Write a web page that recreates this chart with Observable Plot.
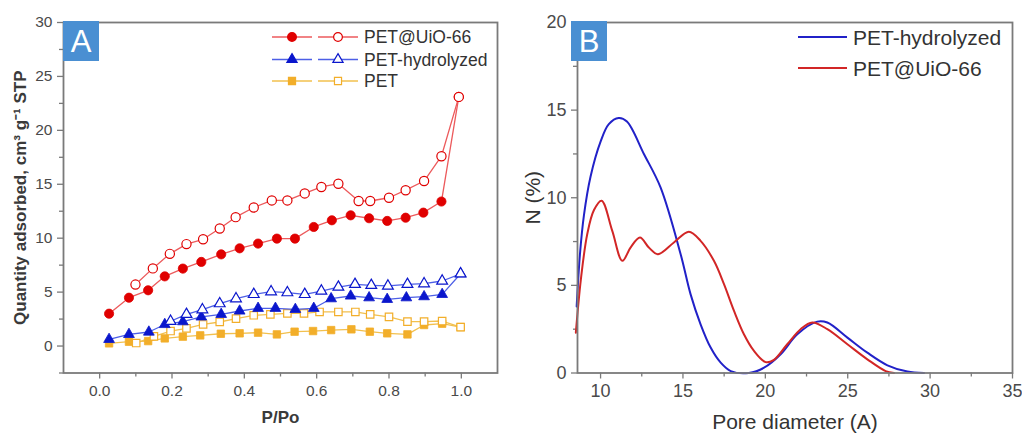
<!DOCTYPE html>
<html>
<head>
<meta charset="utf-8">
<script src="https://cdn.jsdelivr.net/npm/d3@7"></script>
<script src="https://cdn.jsdelivr.net/npm/@observablehq/plot@0.6"></script>
<style>
  html, body { margin: 0; background: #fff; }
  #fig { position: relative; width: 1022px; height: 439px; font-family: "Liberation Sans", Arial, sans-serif; }
  .panel { position: absolute; top: 0; }
  .panel svg { overflow: visible; }
  #overlay { position: absolute; left: 0; top: 0; pointer-events: none; }
  #panelA [aria-label="y-axis tick label"] text, #panelA [aria-label="x-axis tick label"] text { font-size: 15.5px; fill: #4a4a4a; }
  #panelB [aria-label="y-axis tick label"] text, #panelB [aria-label="x-axis tick label"] text { font-size: 18px; fill: #4a4a4a; }
  #panelA [aria-label="y-axis label"] text { font-size: 17px; fill: #3a3a3a; font-weight: bold; }
  #panelA [aria-label="x-axis label"] text { font-size: 17px; fill: #3a3a3a; font-weight: bold; }
  #panelB [aria-label="y-axis label"] text, #panelB [aria-label="x-axis label"] text { font-size: 21px; fill: #333; }
</style>
</head>
<body>
<div id="fig">
  <div class="panel" id="panelA" style="left:0px"></div>
  <div class="panel" id="panelB" style="left:511px"></div>
</div>
<script>
// ---- Panel A: N2 isotherms, relative pressure P/Po vs quantity adsorbed ----
const uioAdsP = [0.026,0.081,0.134,0.18,0.23,0.281,0.336,0.387,0.438,0.49,0.54,0.592,0.642,0.694,0.745,0.795,0.846,0.895,0.945,0.993];
const uioAdsQ = [3.0,4.48,5.17,6.46,7.18,7.8,8.5,9.06,9.5,9.96,9.96,11.04,11.66,12.12,11.85,11.6,11.9,12.37,13.4,23.1];
const uioDesP = [0.993,0.945,0.897,0.846,0.80,0.748,0.716,0.66,0.613,0.567,0.519,0.476,0.426,0.376,0.332,0.286,0.24,0.194,0.147,0.099];
const uioDesQ = [23.1,17.6,15.3,14.45,13.75,13.45,13.45,15.05,14.75,14.15,13.5,13.5,12.85,11.95,10.9,9.9,9.45,8.55,7.2,5.7];

const hydAdsP = [0.026,0.081,0.136,0.18,0.23,0.281,0.336,0.387,0.438,0.486,0.541,0.592,0.64,0.694,0.745,0.795,0.848,0.897,0.947,0.998];
const hydAdsQ = [0.62,1.08,1.3,2.0,2.26,2.7,2.94,3.25,3.5,3.5,3.4,3.5,4.39,4.64,4.48,4.33,4.48,4.58,4.79,6.7];
const hydDesP = [0.998,0.947,0.897,0.851,0.797,0.751,0.706,0.66,0.613,0.567,0.519,0.474,0.426,0.377,0.332,0.284,0.24,0.196];
const hydDesQ = [6.7,6.03,5.78,5.72,5.57,5.63,5.72,5.47,5.1,4.79,4.95,5.04,4.79,4.39,3.93,3.37,2.94,2.3];

const petAdsP = [0.026,0.081,0.134,0.18,0.23,0.278,0.335,0.387,0.438,0.49,0.539,0.59,0.64,0.696,0.747,0.795,0.851,0.897,0.947,0.998];
const petAdsQ = [0.25,0.4,0.46,0.71,0.87,0.99,1.14,1.18,1.24,1.08,1.33,1.39,1.48,1.55,1.33,1.18,1.08,1.95,2.07,1.76];
const petDesP = [0.998,0.947,0.897,0.851,0.8,0.748,0.707,0.66,0.608,0.565,0.519,0.472,0.426,0.377,0.332,0.286,0.24,0.196,0.15,0.101];
const petDesQ = [1.76,2.32,2.26,2.26,2.7,2.94,3.16,3.16,3.16,3.03,3.03,2.94,2.85,2.54,2.23,2.0,1.64,1.39,0.9,0.28];

const isoNames = ["PET@UiO-66", "PET-hydrolyzed", "PET"];
const isoXTicks = [0, 0.2, 0.4, 0.6, 0.8, 1.0];
const isoYTicks = [0, 5, 10, 15, 20, 25, 30];

// ---- Panel B: pore size distribution ----
const hydD = [8.55,8.75,8.99,9.39,10.0,10.5,11.1,11.6,12.63,13.64,14.86,15.46,16.07,16.68,17.29,17.9,19.0,19.92,20.93,21.94,23.15,23.76,24.98,26.19,27.41,28.62,29.63];
const hydN = [3.8,6.8,9.0,11.2,13.2,14.2,14.55,14.35,12.5,10.59,6.78,4.5,2.78,1.45,0.59,0.11,0.0,0.3,1.07,2.21,2.93,2.88,2.02,1.16,0.44,0.08,0.0];
const uioD = [8.5,8.8,9.19,9.6,10.06,10.71,11.32,11.82,12.39,12.93,13.48,14.45,15.36,16.07,16.88,17.49,18.1,18.7,19.31,20.02,20.52,21.33,22.14,22.85,23.76,24.98,26.19,27.3,27.81];
const uioN = [2.3,5.3,7.92,9.3,9.83,8.11,6.4,7.16,7.73,7.16,6.78,7.45,8.06,7.54,6.4,5.07,3.54,2.21,1.26,0.62,0.75,1.64,2.5,2.88,2.5,1.64,0.78,0.11,0.0];

const psdNames = ["PET-hydrolyzed", "PET@UiO-66"];
const psdXTicks = [10, 15, 20, 25, 30, 35];
const psdYTicks = [0, 5, 10, 15, 20];

const rows = (xs, ys) => xs.map((x, i) => ({x, y: ys[i]}));

const isoStyles = [
  {ads: rows(uioAdsP, uioAdsQ), des: rows(uioDesP, uioDesQ), line: "#ec5a5c", mark: "#e00000", symbol: "circle", r: 4.6},
  {ads: rows(hydAdsP, hydAdsQ), des: rows(hydDesP, hydDesQ), line: "#4d5fe6", mark: "#0a16cc", symbol: "triangle", r: 4.0},
  {ads: rows(petAdsP, petAdsQ), des: rows(petDesP, petDesQ), line: "#f2c04e", mark: "#f2ae2a", symbol: "square", r: 4.2}
];

const frameColor = "#7a7a7a";

// minor tick positions halfway between the labelled ones
const halfway = ticks => ticks.slice(0, -1).map((t, i) => (t + ticks[i + 1]) / 2);

const isoMarks = [];
// bottom series first so red sits on top
[...isoStyles].reverse().forEach(s => {
  isoMarks.push(Plot.line(s.ads, {x: "x", y: "y", stroke: s.line, strokeWidth: 1.3}));
  isoMarks.push(Plot.line(s.des, {x: "x", y: "y", stroke: s.line, strokeWidth: 1.3}));
  isoMarks.push(Plot.dot(s.ads, {x: "x", y: "y", symbol: () => s.symbol, fill: s.mark, stroke: s.mark, strokeWidth: 0.8, r: s.r}));
  isoMarks.push(Plot.dot(s.des, {x: "x", y: "y", symbol: () => s.symbol, fill: "white", stroke: s.mark, strokeWidth: 1.2, r: s.r}));
});

const plotA = Plot.plot({
  width: 511, height: 439,
  marginLeft: 63, marginRight: 14, marginTop: 22, marginBottom: 66.5,
  style: {fontFamily: "Liberation Sans, Arial, sans-serif", background: "white"},
  symbol: {domain: ["circle", "triangle", "square"], range: ["circle", "triangle", "square"]},
  x: {domain: [-0.1, 1.1]},
  y: {domain: [-2.5, 30]},
  marks: [
    Plot.axisX(halfway([-0.2, ...isoXTicks, 1.2]).filter(v => v > -0.1 && v < 1.1), {tickSize: 4, tickFormat: () => "", stroke: frameColor, strokeWidth: 1.3, label: null}),
    Plot.axisY(halfway(isoYTicks).concat([-2.5]), {tickSize: 4, tickFormat: () => "", stroke: frameColor, strokeWidth: 1.3, label: null}),
    Plot.axisX(isoXTicks, {tickSize: 6, tickPadding: 6, tickFormat: d3.format(".1f"), stroke: frameColor, strokeWidth: 1.3,
      label: "P/Po", labelAnchor: "center", labelArrow: "none", labelOffset: 50}),
    Plot.axisY(isoYTicks, {tickSize: 6, tickPadding: 5, stroke: frameColor, strokeWidth: 1.3,
      label: "Quantity adsorbed, cm³ g⁻¹ STP", labelAnchor: "center", labelArrow: "none", labelOffset: 50}),
    ...isoMarks,
    Plot.frame({stroke: frameColor, strokeWidth: 1.8})
  ]
});
document.getElementById("panelA").append(plotA);

const psdStyles = [
  {data: rows(hydD, hydN), color: "#2121c8"},
  {data: rows(uioD, uioN), color: "#d22626"}
];

const plotB = Plot.plot({
  width: 511, height: 439,
  marginLeft: 66, marginRight: 10, marginTop: 22, marginBottom: 66.5,
  style: {fontFamily: "Liberation Sans, Arial, sans-serif", background: "white"},
  x: {domain: [8.6, 35]},
  y: {domain: [0, 20]},
  marks: [
    Plot.axisX(halfway(psdXTicks), {tickSize: 4, tickFormat: () => "", stroke: frameColor, strokeWidth: 1.3, label: null}),
    Plot.axisY(halfway(psdYTicks), {tickSize: 4, tickFormat: () => "", stroke: frameColor, strokeWidth: 1.3, label: null}),
    Plot.axisX(psdXTicks, {tickSize: 6, tickPadding: 5, stroke: frameColor, strokeWidth: 1.3,
      label: "Pore diameter (A)", labelAnchor: "center", labelArrow: "none", labelOffset: 56}),
    Plot.axisY(psdYTicks, {tickSize: 6, tickPadding: 5, stroke: frameColor, strokeWidth: 1.3,
      label: "N (%)", labelAnchor: "center", labelArrow: "none", labelOffset: 52}),
    ...psdStyles.map(s => Plot.line(s.data, {x: "x", y: "y", stroke: s.color, strokeWidth: 2, curve: "catmull-rom"})),
    Plot.frame({stroke: frameColor, strokeWidth: 1.8})
  ]
});
document.getElementById("panelB").append(plotB);

// ---- overlay: panel letters and legends ----
const ov = d3.select("#fig").append("svg").attr("id", "overlay")
  .attr("width", 1022).attr("height", 439)
  .style("font-family", "Liberation Sans, Arial, sans-serif");

function letterBox(x, y, label) {
  const g = ov.append("g").attr("transform", `translate(${x},${y})`);
  g.append("rect").attr("width", 36).attr("height", 40).attr("fill", "#4a8fd2");
  g.append("text").attr("x", 18).attr("y", 31).attr("text-anchor", "middle")
    .attr("fill", "white").attr("font-size", 31).text(label);
}
letterBox(63, 21, "A");
letterBox(571, 21, "B");

// legend of panel A: filled (adsorption) and open (desorption) swatches per sample
const symPath = (sym, r) => d3.symbol(sym === "circle" ? d3.symbolCircle : sym === "triangle" ? d3.symbolTriangle : d3.symbolSquare, Math.PI * r * r)();
isoStyles.forEach((s, i) => {
  const y = [37, 59.5, 81][i];
  const g = ov.append("g").attr("transform", `translate(0,${y})`);
  [[272, 312, 292, s.mark], [318, 358, 338, "white"]].forEach(([x0, x1, xm, fill]) => {
    g.append("line").attr("x1", x0).attr("x2", x1).attr("stroke", s.line).attr("stroke-width", 1.5);
    g.append("path").attr("d", symPath(s.symbol, s.r * 0.95)).attr("transform", `translate(${xm},0)`)
      .attr("fill", fill).attr("stroke", s.mark).attr("stroke-width", 1.2);
  });
  g.append("text").attr("x", 364).attr("y", 6).attr("font-size", 17.5).attr("fill", "#333").text(isoNames[i]);
});

// legend of panel B
psdStyles.forEach((s, i) => {
  const y = [37, 68][i];
  const g = ov.append("g").attr("transform", `translate(0,${y})`);
  g.append("line").attr("x1", 798).attr("x2", 847).attr("stroke", s.color).attr("stroke-width", 2);
  g.append("text").attr("x", 853).attr("y", 7.5).attr("font-size", 21).attr("fill", "#333").text(psdNames[i]);
});
</script>
</body>
</html>
